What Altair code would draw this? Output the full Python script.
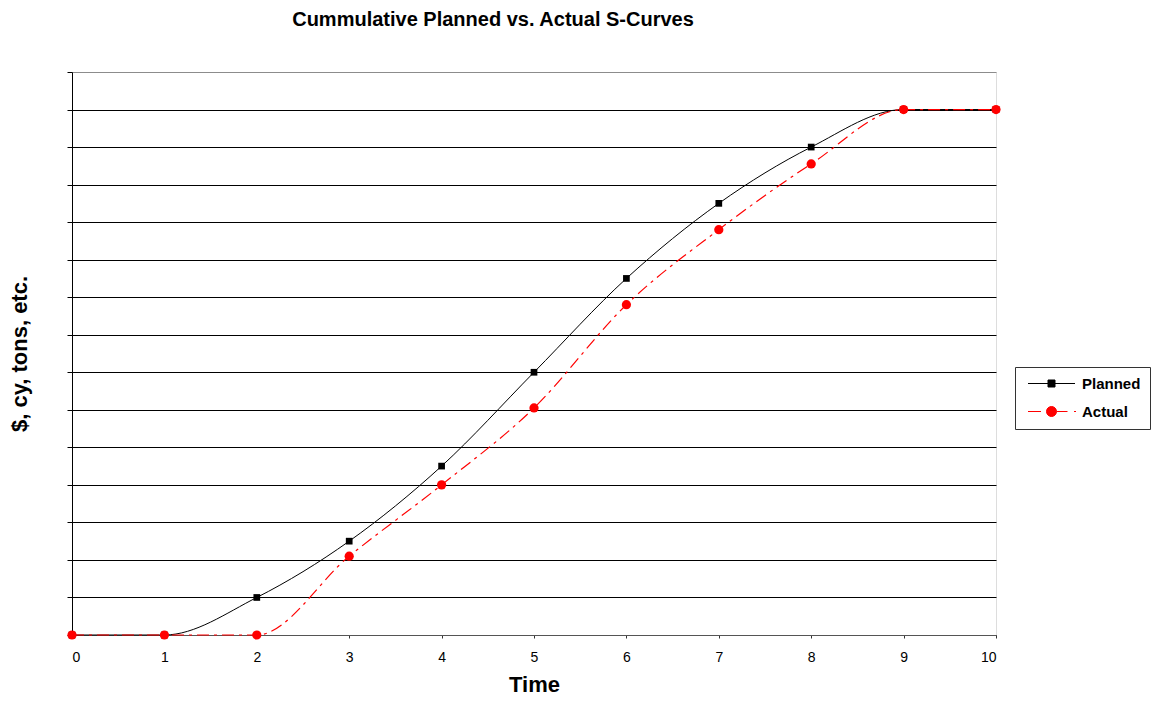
import altair as alt
import pandas as pd

# ---- data ----
time = [0, 1, 2, 3, 4, 5, 6, 7, 8, 9, 10]
planned = [0, 0, 1, 2.5, 4.5, 7, 9.5, 11.5, 13, 14, 14]
actual = [0, 0, 0, 2.1, 4.0, 6.05, 8.8, 10.8, 12.55, 14, 14]
series_names = ["Planned", "Actual"]
series_colors = ["black", "red"]
x_ticks = list(range(0, 11))
y_ticks = list(range(0, 16))

rows = []
for t, p, a in zip(time, planned, actual):
    rows.append({"x": t, "v": p, "series": "Planned"})
    rows.append({"x": t, "v": a, "series": "Actual"})
df = pd.DataFrame(rows)

FONT = "Liberation Sans"

# legend symbols: line + marker (custom paths, unit = sqrt(size)/2 px)
legend_paths = [
    "M-4.7,0L4.7,0M-0.7,-0.7L0.7,-0.7L0.7,0.7L-0.7,0.7Z",
    "M-4.7,0L-2.1,0M1,0A1,1,0,1,1,-1,0A1,1,0,1,1,1,0ZM1,0L3.2,0M4.5,0L4.9,0",
]

x_enc = alt.X(
    "x:Q",
    scale=alt.Scale(domain=[0, 10], nice=False),
    axis=alt.Axis(
        values=x_ticks,
        tickCount=len(x_ticks),
        title="Time",
        grid=False,
        tickSize=3,
        tickColor="#333333",
        domainColor="#555555",
        labelFontSize=14,
        labelFont=FONT,
        labelColor="black",
        labelPadding=12,
        titleFont=FONT,
        titleFontSize=22,
        titleFontWeight="bold",
        titleColor="black",
        titlePadding=10,
        format="d",
    ),
)
y_enc = alt.Y(
    "v:Q",
    scale=alt.Scale(domain=[0, 15], nice=False),
    axis=alt.Axis(
        values=y_ticks,
        tickCount=len(y_ticks),
        labels=False,
        title="$, cy, tons, etc.",
        grid=True,
        gridColor={"condition": {"test": "datum.value >= 15", "value": "#8c8c8c"}, "value": "black"},
        gridWidth=1,
        tickSize=5,
        tickColor="black",
        domainColor="black",
        titleFont=FONT,
        titleFontSize=22,
        titleFontWeight="bold",
        titleColor="black",
        titlePadding=35,
    ),
)

base = alt.Chart(df)

planned_line = base.transform_filter("datum.series == 'Planned'").mark_line(
    color="black", strokeWidth=1, interpolate="monotone"
).encode(x=x_enc, y=y_enc)

planned_pts = base.transform_filter("datum.series == 'Planned'").mark_point(
    shape="square", filled=True, size=45, color="black", opacity=1
).encode(x="x:Q", y="v:Q")

actual_line = base.transform_filter("datum.series == 'Actual'").mark_line(
    color="red", strokeWidth=1.2, strokeDash=[12, 5, 3, 5], interpolate="monotone"
).encode(x="x:Q", y="v:Q")

actual_pts = base.transform_filter("datum.series == 'Actual'").mark_point(
    shape="circle", filled=True, size=85, color="red", opacity=1
).encode(x="x:Q", y="v:Q")

leg_props = dict(
    title=None,
    orient="none",
    legendX=943,
    legendY=295,
    padding=9,
    strokeColor="#333333",
    fillColor="white",
    cornerRadius=0,
    labelFont=FONT,
    labelFontSize=15,
    labelFontWeight="bold",
    labelColor="black",
    symbolSize=100,
    symbolStrokeWidth=1,
    symbolOffset=20,
    labelOffset=23,
    rowPadding=12,
)

legend_layer = base.transform_filter("datum.x < 0").mark_point(
    filled=True, opacity=1
).encode(
    color=alt.Color("series:N", scale=alt.Scale(domain=series_names, range=series_colors),
                    legend=alt.Legend(**leg_props)),
    stroke=alt.Stroke("series:N", scale=alt.Scale(domain=series_names, range=series_colors),
                      legend=alt.Legend(**leg_props)),
    shape=alt.Shape("series:N", scale=alt.Scale(domain=series_names, range=legend_paths),
                    legend=alt.Legend(**leg_props)),
)

chart = alt.layer(
    planned_line, planned_pts, actual_line, actual_pts, legend_layer
).properties(
    width=924,
    height=563,
    autosize=alt.AutoSizeParams(type="none"),
    padding={"left": 64, "top": 64, "right": 155, "bottom": 61},
    title=alt.TitleParams(
        "Cummulative Planned vs. Actual S-Curves",
        font=FONT,
        fontSize=20,
        fontWeight="bold",
        color="black",
        anchor="middle",
        offset=42,
        dx=-41,
    ),
).configure_view(
    stroke="#8c8c8c", strokeWidth=1
).configure(background="white")

chart.save("out.html", embed_options={"renderer": "svg", "actions": False})
